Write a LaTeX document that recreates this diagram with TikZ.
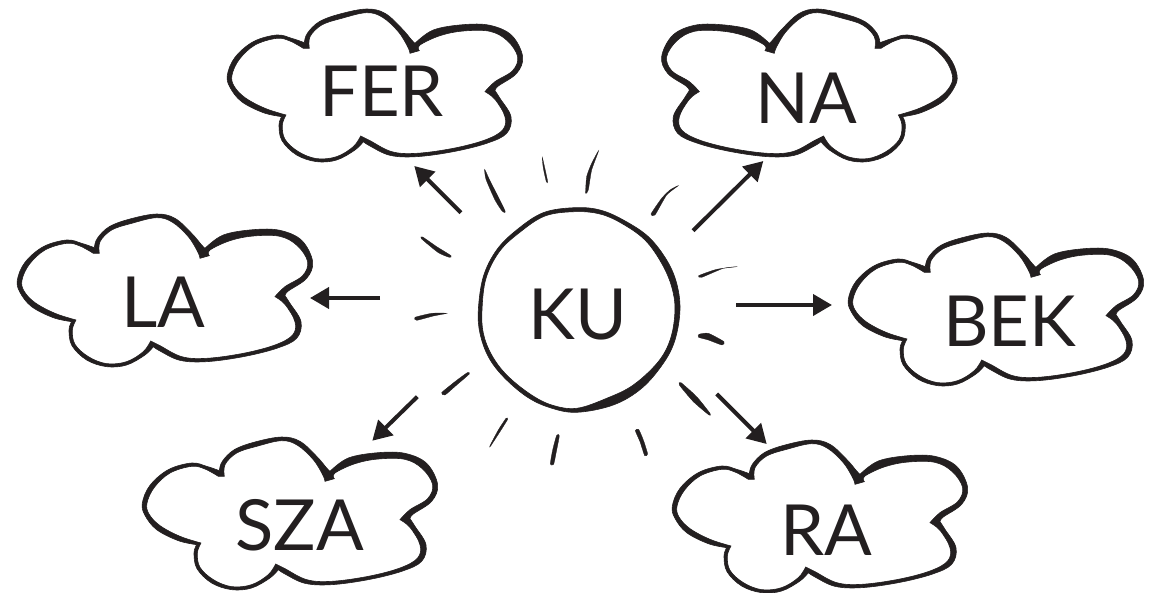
\documentclass[tikz,border=0pt]{standalone}
\usepackage{fontspec}
\setmainfont{Lato}
\usetikzlibrary{arrows.meta}
\definecolor{ink}{HTML}{231F20}
\newcommand{\cloudshape}{%
  \filldraw[ink,line width=.6pt,even odd rule,smooth,tension=.6]
    plot coordinates {(253,128)(262,100)(298,65)(360,42)(440,27)(495,40)(545,85)(575,120)(585,130)}
    -- plot coordinates {(585,130)(640,90)(730,74)(810,76)(875,106)(908,170)(890,220)(835,258)(825,272)}
    -- plot coordinates {(825,272)(840,295)(873,350)(860,400)(800,430)(700,455)(590,470)(510,466)(450,438)(430,425)}
    -- plot coordinates {(430,425)(405,450)(350,480)(290,485)(230,465)(186,422)(177,375)(185,350)}
    -- plot coordinates {(185,350)(130,338)(65,305)(30,262)(22,225)(45,172)(100,125)(170,105)(215,115)(253,128)}
    -- cycle
    plot coordinates {(268,145)(270,110)(305,75)(365,55)(440,38)(488,52)(535,95)(563,140)(570,160)}
    -- plot coordinates {(598,152)(600,135)(660,107)(730,93)(810,94)(862,122)(893,170)(878,212)(825,245)(795,275)}
    -- plot coordinates {(795,275)(825,298)(855,350)(848,390)(795,420)(700,445)(590,460)(515,455)(450,422)(422,408)}
    -- plot coordinates {(422,408)(400,440)(350,470)(290,476)(235,455)(195,418)(187,375)(198,345)}
    -- plot coordinates {(198,345)(135,325)(75,293)(42,258)(36,225)(58,178)(105,135)(170,115)(210,123)(250,145)}
    -- cycle;}
\newcommand{\ray}[1]{\filldraw[ink,line width=.3pt] plot[smooth cycle,tension=.35] coordinates {#1};}
\tikzset{
  label text/.style={font=\fontsize{70.5}{71}\selectfont,text=ink,anchor=base,inner sep=0pt},
  link/.style={draw=ink,line width=4pt,-{Triangle[length=19pt,width=21pt]}},
}
\begin{document}
\begin{tikzpicture}[x=1pt,y=-1pt]
\useasboundingbox (0,0) rectangle (1155,592);
% clouds
\begin{scope}[shift={(220,0)},x=.3333pt,y=-.3333pt]\cloudshape\end{scope}
\begin{scope}[shift={(964.3,0)},x=-.3333pt,y=-.3333pt]\cloudshape\end{scope}
\begin{scope}[shift={(10,205)},x=.3333pt,y=-.3333pt]\cloudshape\end{scope}
\begin{scope}[shift={(841,224)},x=.3333pt,y=-.3333pt]\cloudshape\end{scope}
\begin{scope}[shift={(135,428)},x=.3333pt,y=-.3333pt]\cloudshape\end{scope}
\begin{scope}[shift={(665,431)},x=.3333pt,y=-.3333pt]\cloudshape\end{scope}
% sun
\begin{scope}[shift={(400,140)},x=.3333pt,y=-.3333pt]
\filldraw[ink,line width=.6pt,even odd rule,smooth cycle,tension=.6]
  plot coordinates {(525,203)(600,210)(670,240)(745,290)(800,360)(830,430)(840,510)(825,600)(790,670)(725,745)(640,795)(530,817)(450,803)(380,770)(310,710)(265,650)(240,580)(235,510)(250,410)(290,330)(350,270)(430,218)}
  plot coordinates {(525,215)(600,222)(665,250)(735,300)(785,370)(815,440)(825,510)(812,595)(775,665)(700,735)(620,775)(530,805)(455,795)(390,762)(320,705)(275,645)(250,580)(246,510)(258,415)(298,335)(358,278)(435,228)};
\ray{(254,88)(268,118)(315,212)(307,214)(285,180)(258,118)}
\ray{(427,52)(443,124)(439,125)(430,85)}
\ray{(596,32)(575,90)(565,150)(557,160)(560,110)(575,70)}
\ray{(835,137)(800,165)(765,225)(753,222)(785,175)(810,150)}
\ray{(1012,380)(970,385)(905,412)(896,407)(950,388)}
\ray{(897,583)(925,580)(972,605)(966,615)(925,600)(896,592)}
\ray{(843,728)(890,770)(930,820)(927,825)(880,785)(838,735)}
\ray{(716,868)(730,900)(743,942)(734,947)(720,905)(706,872)}
\ray{(478,887)(470,930)(461,973)(451,972)(458,930)(470,886)}
\ray{(323,838)(300,875)(272,918)(270,917)(295,870)(318,835)}
\ray{(208,702)(170,735)(135,765)(125,758)(165,725)(202,698)}
\ray{(140,520)(100,528)(50,541)(45,532)(95,520)}
\ray{(68,291)(110,320)(153,347)(148,352)(115,338)(64,296)}
\end{scope}
% labels
\node[label text] (KU) at (578,339) {KU};
\node[label text] (FER) at (381.5,116.7) {FER};
\node[label text] (NA) at (806,123.3) {NA};
\node[label text] (BEK) at (1009.5,346) {BEK};
\node[label text] (LA) at (163.5,327.3) {LA};
\node[label text] (SZA) at (299.5,550) {SZA};
\node[label text] (RA) at (826.5,555.7) {RA};
% arrow ends
\coordinate (kFER) at (461,212.7); \coordinate (tFER) at (414.3,166);
\coordinate (kNA) at (693,230.7);  \coordinate (tNA) at (763.3,161);
\coordinate (kBEK) at (736,305);   \coordinate (tBEK) at (832,305);
\coordinate (kLA) at (380,298);    \coordinate (tLA) at (310,298);
\coordinate (kSZA) at (417.3,396.7); \coordinate (tSZA) at (372.3,440.7);
\coordinate (kRA) at (716.7,394);  \coordinate (tRA) at (766.7,444);
\foreach \n in {FER,NA,BEK,LA,SZA,RA}{\draw[link] (k\n) -- (t\n);}
\end{tikzpicture}
\end{document}
